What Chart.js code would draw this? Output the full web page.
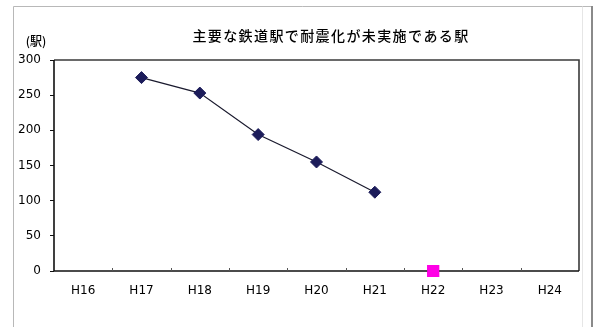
<!DOCTYPE html>
<html>
<head>
<meta charset="utf-8">
<script src="https://cdn.jsdelivr.net/npm/chart.js@4/dist/chart.umd.min.js"></script>
<style>
  html, body { margin: 0; padding: 0; background: #fff; }
  #wrap { position: relative; width: 598px; height: 327px; }
  canvas { display: block; }
</style>
</head>
<body>
<div id="wrap"><canvas id="c" width="598" height="327"></canvas></div>
<script>
// Fiscal years (Heisei)
const years = ['H16', 'H17', 'H18', 'H19', 'H20', 'H21', 'H22', 'H23', 'H24'];
// Stations whose seismic retrofit is not yet done (actual)
const stationsRemaining = [null, 275, 253, 194, 155, 112, null, null, null];
// Target value
const targetValue = [null, null, null, null, null, null, 0, null, null];
// Y axis ticks
const yTicks = [0, 50, 100, 150, 200, 250, 300];

const chartTitle = '主要な鉄道駅で耐震化が未実施である駅';
const unitLabel = '(駅)';

const decor = {
  id: 'decor',
  beforeDraw(chart) {
    const ctx = chart.ctx;
    ctx.save();
    ctx.fillStyle = '#fff';
    ctx.fillRect(0, 0, chart.width, chart.height);
    // outer frame
    ctx.strokeStyle = '#b8b8b8';
    ctx.lineWidth = 1;
    ctx.beginPath();
    ctx.moveTo(13.5, 327); ctx.lineTo(13.5, 6.5); ctx.lineTo(592, 6.5);
    ctx.stroke();
    ctx.strokeStyle = '#e6e6e6';
    ctx.beginPath();
    ctx.moveTo(582.5, 6.5); ctx.lineTo(582.5, 327);
    ctx.stroke();
    ctx.strokeStyle = '#8a8a8a';
    ctx.lineWidth = 2;
    ctx.beginPath();
    ctx.moveTo(592, 6); ctx.lineTo(592, 327);
    ctx.stroke();
    ctx.restore();
  },
  afterDatasetsDraw(chart) {
    const ctx = chart.ctx;
    const a = chart.chartArea;
    ctx.save();
    // plot frame
    ctx.strokeStyle = '#3a3a3a';
    ctx.lineWidth = 1.6;
    ctx.beginPath();
    ctx.moveTo(a.left, a.top); ctx.lineTo(a.right, a.top); ctx.lineTo(a.right, a.bottom);
    ctx.stroke();
    ctx.strokeStyle = '#111';
    ctx.beginPath();
    ctx.moveTo(a.left, a.top); ctx.lineTo(a.left, a.bottom); ctx.lineTo(a.right, a.bottom);
    ctx.stroke();
    // category boundary ticks on the x axis
    ctx.lineWidth = 1;
    ctx.strokeStyle = '#555';
    const step = (a.right - a.left) / years.length;
    for (let i = 1; i < years.length; i++) {
      const px = Math.round(a.left + step * i) + 0.5;
      ctx.beginPath();
      ctx.moveTo(px, a.bottom); ctx.lineTo(px, a.bottom - 3);
      ctx.stroke();
    }
    ctx.restore();
    // redraw target marker on top of the axis line
    const meta = chart.getDatasetMeta(1);
    meta.data.forEach(el => { if (!el.skip) el.draw(ctx, undefined); });
  },
  afterDraw(chart) {
    const ctx = chart.ctx;
    ctx.save();
    ctx.fillStyle = '#000';
    ctx.textBaseline = 'middle';
    ctx.textAlign = 'center';
    ctx.font = '500 14px "Noto Sans CJK JP"';
    ctx.letterSpacing = '1.4px';
    ctx.fillText(chartTitle, 331, 36);
    ctx.letterSpacing = '0px';
    ctx.font = '500 12px "Noto Sans CJK JP"';
    ctx.fillText(unitLabel, 36, 41);
    ctx.restore();
  }
};

new Chart(document.getElementById('c'), {
  type: 'line',
  data: {
    labels: years,
    datasets: [
      {
        data: stationsRemaining,
        borderColor: '#1a1a2e',
        borderWidth: 1.2,
        pointStyle: 'rectRot',
        pointRadius: 6,
        pointBackgroundColor: '#1c1c5a',
        pointBorderColor: '#1c1c5a',
        pointBorderWidth: 1,
        spanGaps: false,
        tension: 0,
        clip: false
      },
      {
        data: targetValue,
        showLine: false,
        pointStyle: 'rect',
        pointRadius: 8.5,
        pointBackgroundColor: '#ff00e6',
        pointBorderColor: '#ff00e6',
        pointBorderWidth: 0,
        clip: false
      }
    ]
  },
  options: {
    responsive: false,
    animation: false,
    devicePixelRatio: 1,
    layout: { padding: { left: 0, right: 19, top: 60, bottom: 0 } },
    plugins: {
      legend: { display: false },
      tooltip: { enabled: false },
      title: { display: false }
    },
    scales: {
      x: {
        type: 'category',
        offset: true,
        grid: { display: false, drawTicks: false },
        border: { display: false },
        ticks: {
          padding: 13,
          color: '#000',
          font: { family: 'DejaVu Sans', size: 12 },
          maxRotation: 0
        },
        afterFit(scale) { scale.height = 56; }
      },
      y: {
        min: 0,
        max: 300,
        afterBuildTicks(scale) { scale.ticks = yTicks.map(v => ({ value: v })); },
        grid: { drawOnChartArea: false, tickLength: 4, color: '#111' },
        border: { display: false },
        ticks: {
          padding: 9,
          color: '#000',
          font: { family: 'DejaVu Sans', size: 12 }
        },
        afterFit(scale) { scale.width = 54; }
      }
    }
  },
  plugins: [decor]
});
</script>
</body>
</html>
